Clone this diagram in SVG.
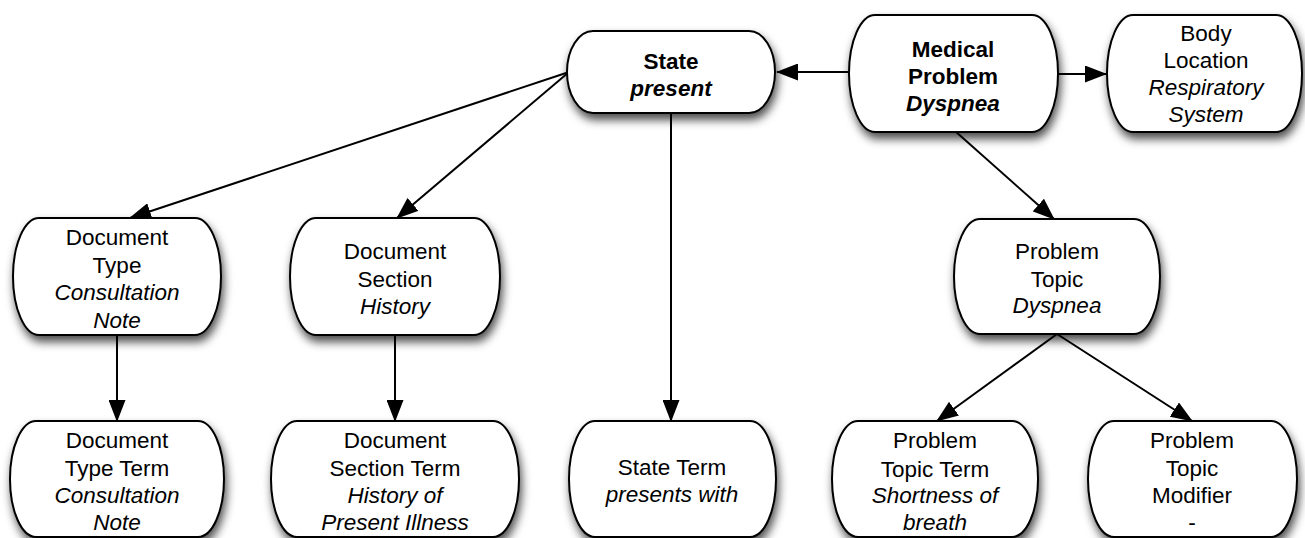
<svg xmlns="http://www.w3.org/2000/svg" width="1305" height="538" viewBox="0 0 1305 538">
<defs>
<filter id="sh" x="-20%" y="-20%" width="140%" height="150%">
<feDropShadow dx="2" dy="6" stdDeviation="5" flood-color="#000" flood-opacity="0.7"/>
</filter>
<marker id="ah" markerUnits="userSpaceOnUse" markerWidth="22" markerHeight="17" refX="21" refY="8.5" orient="auto">
<path d="M0,0 L22,8.5 L0,17 z" fill="#000"/>
</marker>
</defs>
<style>
.box{fill:#fff;stroke:#000;stroke-width:2;filter:url(#sh)}
text{font-family:"Liberation Sans",Arial,Helvetica,sans-serif;font-size:22.5px;fill:#000;text-anchor:middle}
.b{font-weight:bold}
.i{font-style:italic}
.c line{stroke:#000;stroke-width:2;marker-end:url(#ah)}
</style>
<rect width="1305" height="538" fill="#fff"/>
<g class="c" id="connectors">
<line x1="849" y1="72" x2="777" y2="72"/>
<line x1="1058" y1="74" x2="1106" y2="74"/>
<line x1="569" y1="72" x2="130" y2="218"/>
<line x1="569" y1="72" x2="397" y2="218"/>
<line x1="671" y1="113" x2="671" y2="421"/>
<line x1="955" y1="131" x2="1054" y2="219"/>
<line x1="117" y1="335" x2="117" y2="421"/>
<line x1="395" y1="335" x2="395" y2="421"/>
<line x1="1057" y1="334" x2="937" y2="421"/>
<line x1="1057" y1="334" x2="1192" y2="421"/>
</g>
<g id="state">
<rect class="box" x="567" y="31" width="208" height="82" rx="26" ry="41"/>
<text x="671" y="69" class="b">State</text>
<text x="671" y="96" class="b i">present</text>
</g>
<g id="medical-problem">
<rect class="box" x="849" y="15" width="209" height="117" rx="26" ry="58.5"/>
<text x="953" y="57" class="b">Medical</text>
<text x="953" y="84" class="b">Problem</text>
<text x="953" y="111" class="b i">Dyspnea</text>
</g>
<g id="body-location">
<rect class="box" x="1107" y="15" width="195" height="117" rx="26" ry="58.5"/>
<text x="1206" y="41">Body</text>
<text x="1206" y="68">Location</text>
<text x="1206" y="95" class="i">Respiratory</text>
<text x="1206" y="122" class="i">System</text>
</g>
<g id="document-type">
<rect class="box" x="13" y="218" width="208" height="117" rx="26" ry="58.5"/>
<text x="117" y="245">Document</text>
<text x="117" y="273">Type</text>
<text x="117" y="300" class="i">Consultation</text>
<text x="117" y="328" class="i">Note</text>
</g>
<g id="document-section">
<rect class="box" x="290" y="218" width="210" height="117" rx="26" ry="58.5"/>
<text x="395" y="259">Document</text>
<text x="395" y="287">Section</text>
<text x="395" y="314" class="i">History</text>
</g>
<g id="problem-topic">
<rect class="box" x="954" y="219" width="206" height="115" rx="26" ry="57.5"/>
<text x="1057" y="259">Problem</text>
<text x="1057" y="287">Topic</text>
<text x="1057" y="313" class="i">Dyspnea</text>
</g>
<g id="document-type-term">
<rect class="box" x="10" y="421" width="214" height="116" rx="26" ry="58"/>
<text x="117" y="448">Document</text>
<text x="117" y="476">Type Term</text>
<text x="117" y="503" class="i">Consultation</text>
<text x="117" y="530" class="i">Note</text>
</g>
<g id="document-section-term">
<rect class="box" x="271" y="421" width="248" height="116" rx="26" ry="58"/>
<text x="395" y="448">Document</text>
<text x="395" y="476">Section Term</text>
<text x="395" y="503" class="i">History of</text>
<text x="395" y="530" class="i">Present Illness</text>
</g>
<g id="state-term">
<rect class="box" x="569" y="421" width="207" height="116" rx="26" ry="58"/>
<text x="672" y="475">State Term</text>
<text x="672" y="502" class="i">presents with</text>
</g>
<g id="problem-topic-term">
<rect class="box" x="832" y="421" width="206" height="116" rx="26" ry="58"/>
<text x="935" y="448">Problem</text>
<text x="935" y="477">Topic Term</text>
<text x="935" y="503" class="i">Shortness of</text>
<text x="935" y="530" class="i">breath</text>
</g>
<g id="problem-topic-modifier">
<rect class="box" x="1088" y="421" width="209" height="116" rx="26" ry="58"/>
<text x="1192" y="448">Problem</text>
<text x="1192" y="476">Topic</text>
<text x="1192" y="503">Modifier</text>
<text x="1192" y="530">-</text>
</g>
</svg>
